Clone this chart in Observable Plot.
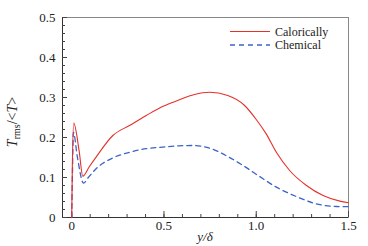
<!DOCTYPE html>
<html><head><meta charset="utf-8">
<script src="https://cdn.jsdelivr.net/npm/d3@7"></script>
<script src="https://cdn.jsdelivr.net/npm/@observablehq/plot@0.6"></script>
<style>body{margin:0;background:#fff}</style>
</head><body><div id="chart"></div>
<script>
const seriesNames = ["Calorically", "Chemical"];
const caloricX = [0, 0.003, 0.011, 0.04, 0.06, 0.096, 0.132, 0.223, 0.313, 0.404, 0.495, 0.574, 0.665, 0.746, 0.846, 0.937, 1.0, 1.054, 1.109, 1.181, 1.272, 1.362, 1.453, 1.5];
const caloricY = [0, 0.12, 0.236, 0.167, 0.103, 0.1275, 0.151, 0.205, 0.23, 0.255, 0.278, 0.2925, 0.3075, 0.313, 0.305, 0.28, 0.245, 0.209, 0.163, 0.1175, 0.08, 0.055, 0.041, 0.037];
const chemicalX = [0, 0.004, 0.009, 0.031, 0.064, 0.09, 0.132, 0.223, 0.313, 0.404, 0.495, 0.58, 0.665, 0.755, 0.846, 0.937, 1.018, 1.109, 1.217, 1.326, 1.435, 1.5];
const chemicalY = [0, 0.11, 0.213, 0.15, 0.086, 0.1, 0.122, 0.149, 0.163, 0.172, 0.176, 0.179, 0.18, 0.172, 0.1525, 0.1275, 0.1025, 0.076, 0.0525, 0.034, 0.0275, 0.027];
const xDomain = [-0.05, 1.5];
const yDomain = [0, 0.5];
const xMajor = [0, 0.5, 1.0, 1.5];
const xMinor = [0, 0.1, 0.2, 0.3, 0.4, 0.5, 0.6, 0.7, 0.8, 0.9, 1.0, 1.1, 1.2, 1.3, 1.4, 1.5];
const yMajor = [0, 0.1, 0.2, 0.3, 0.4, 0.5];
const yMinor = [0, 0.02, 0.04, 0.06, 0.08, 0.1, 0.12, 0.14, 0.16, 0.18, 0.2, 0.22, 0.24, 0.26, 0.28, 0.3, 0.32, 0.34, 0.36, 0.38, 0.4, 0.42, 0.44, 0.46, 0.48, 0.5];

const caloric = caloricX.map((x, i) => ({x, y: caloricY[i]}));
const chemical = chemicalX.map((x, i) => ({x, y: chemicalY[i]}));

const W = 368, H = 246, mL = 62, mR = 20, mT = 17, mB = 29;
const plotW = W - mL - mR, plotH = H - mT - mB;
const RED = "#e3312b", BLUE = "#3b63c8";
const FONT = "Liberation Serif";
const fmt = d => d === 0 ? "0" : d.toFixed(1);

const chart = Plot.plot({
  width: W, height: H,
  marginLeft: mL, marginRight: mR, marginTop: mT, marginBottom: mB,
  x: {domain: xDomain},
  y: {domain: yDomain},
  style: {fontFamily: FONT, fontSize: "13px", color: "#222", background: "#fff"},
  marks: [
    Plot.frame({stroke: "#888"}),
    Plot.ruleY([yDomain[0]], {stroke: "#333"}),
    Plot.ruleX([xDomain[0]], {stroke: "#333"}),
    Plot.tickX(xMinor, {x: d => d, insetTop: plotH - 3, stroke: "#444"}),
    Plot.tickX(xMajor, {x: d => d, insetTop: plotH - 6, stroke: "#444"}),
    Plot.tickY(yMinor, {y: d => d, insetRight: plotW - 3, stroke: "#444"}),
    Plot.tickY(yMajor, {y: d => d, insetRight: plotW - 5, stroke: "#444"}),
    Plot.axisX(xMajor, {tickSize: 0, tickPadding: 3, tickFormat: fmt, label: null, fontFamily: FONT}),
    Plot.axisY(yMajor, {tickSize: 0, tickPadding: 7, tickFormat: fmt, label: null, fontFamily: FONT}),
    Plot.line(chemical, {x: "x", y: "y", stroke: BLUE, strokeWidth: 1.3, strokeDasharray: "5,4", curve: "monotone-x"}),
    Plot.line(caloric, {x: "x", y: "y", stroke: RED, strokeWidth: 1.1, curve: "monotone-x"})
  ]
});
document.getElementById("chart").appendChild(chart);

const svg = d3.select(chart);
svg.append("text").attr("x", mL + plotW / 2).attr("y", 241)
  .attr("text-anchor", "middle").style("font-family", FONT)
  .attr("font-size", 13).attr("fill", "#222").attr("font-style", "italic").text("y/δ");
const yl = svg.append("text").attr("transform", `translate(17,122) rotate(-90)`)
  .attr("text-anchor", "middle").style("font-family", FONT)
  .attr("font-size", 14).attr("fill", "#222");
yl.append("tspan").attr("font-style", "italic").text("T");
yl.append("tspan").attr("font-size", 10).attr("dy", 3).text("rms");
yl.append("tspan").attr("dy", -3).text("/<");
yl.append("tspan").attr("font-style", "italic").text("T");
yl.append("tspan").text(">");
const leg = svg.append("g").style("font-family", FONT).attr("font-size", 12)
  .attr("fill", "#222").attr("text-anchor", "start");
const colors = [RED, BLUE], dashes = [null, "5,4"];
seriesNames.forEach((name, i) => {
  const y = 31.5 + i * 13.5;
  leg.append("line").attr("x1", 230).attr("x2", 270).attr("y1", y).attr("y2", y)
    .attr("stroke", colors[i]).attr("stroke-width", i ? 1.3 : 1.1).attr("stroke-dasharray", dashes[i]);
  leg.append("text").attr("x", 275).attr("y", y + 4).attr("text-anchor", "start").text(name);
});
</script></body></html>
